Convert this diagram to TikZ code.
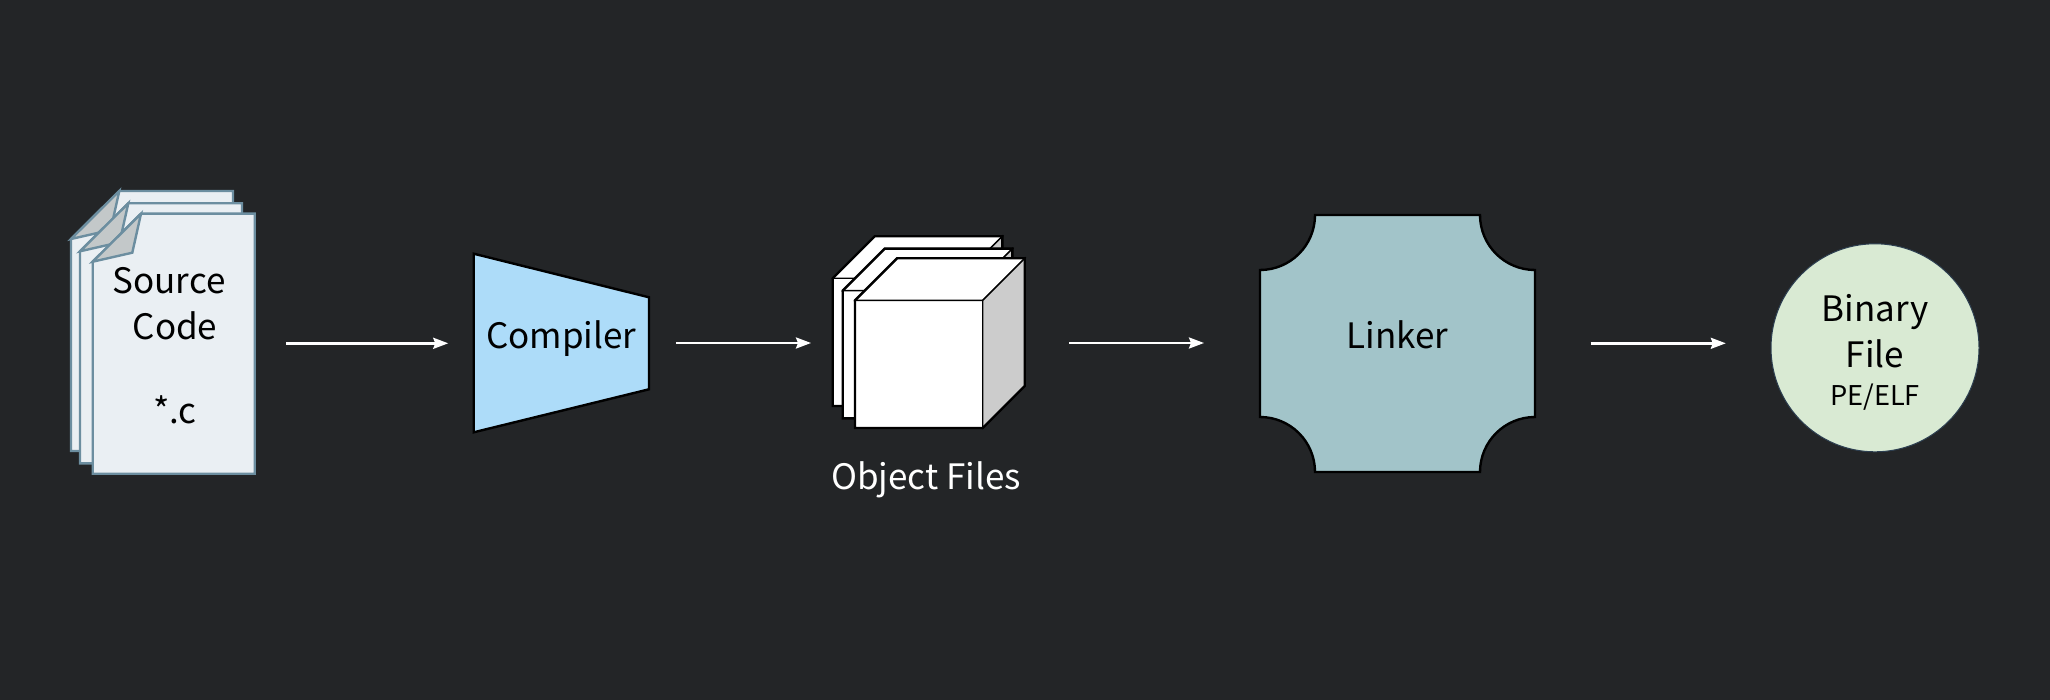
\documentclass[tikz,border=0pt]{standalone}
\usepackage{fontspec}
\setmainfont{Noto Sans CJK SC}
\usetikzlibrary{arrows.meta}

\definecolor{bgdark}{HTML}{232527}
\definecolor{pagefill}{HTML}{EAEFF3}
\definecolor{pageedge}{HTML}{6C8EA0}
\definecolor{foldgrey}{HTML}{C3C8C9}
\definecolor{compfill}{HTML}{ADDCF9}
\definecolor{linkfill}{HTML}{A2C4C9}
\definecolor{binfill}{HTML}{D9EAD3}
\definecolor{binedge}{HTML}{2C3E50}

\tikzset{
  pics/srcpage/.style={code={
    \draw[pageedge, fill=pagefill, line width=1.2pt] (0,48) -- (48.3,0) -- (162,0) -- (162,260) -- (0,260) -- cycle;
    \draw[pageedge, fill=foldgrey, line width=1.2pt] (0,48) -- (48.3,0) -- (39.6,39) -- cycle;
  }},
  pics/objcube/.style={code={
    \draw[fill=white, line width=.7pt] (0,0) rectangle (127.7,127.7);
    \draw[fill=white, line width=.7pt] (0,0) -- (42,-42) -- (169.7,-42) -- (127.7,0) -- cycle;
    \draw[fill=black!20, line width=.7pt] (127.7,0) -- (169.7,-42) -- (169.7,85.7) -- (127.7,127.7) -- cycle;
    \draw[line width=1.2pt] (0,0) -- (42,-42) -- (169.7,-42) -- (169.7,85.7) -- (127.7,127.7) -- (0,127.7) -- cycle;
  }}
}

\begin{document}
\begin{tikzpicture}[x=.5pt, y=-.5pt,
      every node/.style={inner sep=0pt, outer sep=0pt, align=center, font=\fontsize{17.5}{23}\selectfont},
      oneline/.style={text height=8.8pt, text depth=3.6pt},
      flow/.style={draw=white, line width=1.2pt, -{Stealth[length=7.5pt, width=5.5pt, inset=1pt]}}]
    \fill[bgdark] (0,0) rectangle (2050,700);

    \foreach \px/\py in {71/191, 80/203.3, 92.7/213.7}
      \pic at (\px,\py) {srcpage};
    \node (srcdoc) [minimum width=81pt, minimum height=129.6pt] at (175,343.3)
      {\rule{0pt}{15.6pt}Source\hspace*{6pt}\\Code\\[19pt]*.c};

    \draw[fill=compfill, line width=1.2pt] (473.7,253.7) -- (649,297.3) -- (649,389.3) -- (473.7,432.3) -- cycle;
    \node (compiler) [oneline, minimum width=87.65pt, minimum height=89.3pt] at (561.3,343) {Compiler};

    \foreach \px/\py in {832.7/278.3, 842.7/290.7, 855/300.3}
      \pic at (\px,\py) {objcube};
    \node (objfiles) [minimum width=85pt, minimum height=84.7pt] at (940,343) {};
    \node (objlabel) [anchor=base, text=white] at (926,489.5) {Object Files};

    \draw[fill=linkfill, line width=1.2pt] (1315,215) -- (1480,215)
      arc[start angle=180, end angle=270, radius=27.5pt] -- (1535,417)
      arc[start angle=90, end angle=180, radius=27.5pt] -- (1315,472)
      arc[start angle=0, end angle=90, radius=27.5pt] -- (1260,270)
      arc[start angle=270, end angle=360, radius=27.5pt] -- cycle;
    \node (linker) [oneline, minimum width=137.2pt, minimum height=128.35pt] at (1397.5,343.3) {Linker};

    \node (binfile) [circle, draw=binedge, fill=binfill, line width=.5pt, minimum size=104pt] at (1875,347.8)
      {\rule{0pt}{18.2pt}Binary\\File\\[-4.25pt]{\fontsize{13.6}{17}\selectfont PE/ELF}};

    \draw[flow, shorten <=15.15pt, shorten >=12.7pt] (srcdoc.east) -- (srcdoc.east -| compiler.west);
    \draw[flow, shorten <=13.5pt, shorten >=22pt] (compiler.east) -- (compiler.east -| objfiles.west);
    \draw[flow, shorten <=22pt, shorten >=28.15pt] (objfiles.east) -- (objfiles.east -| linker.west);
    \draw[flow, shorten <=28pt, shorten >=22.6pt] (linker.east) -- (linker.east -| binfile.west);
  \end{tikzpicture}
\end{document}
